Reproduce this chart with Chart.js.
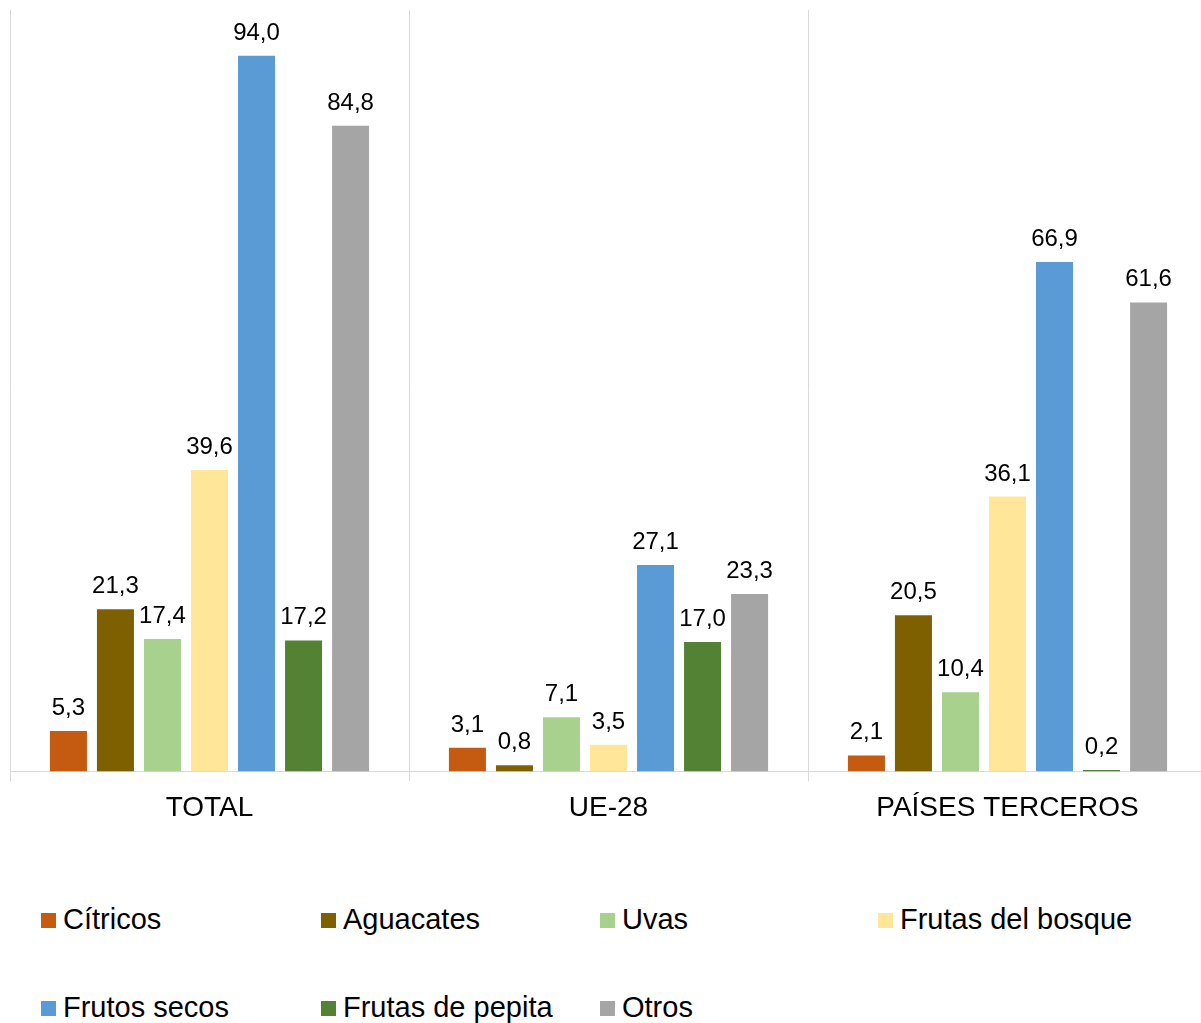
<!DOCTYPE html>
<html>
<head>
<meta charset="utf-8">
<script src="https://cdn.jsdelivr.net/npm/chart.js@4/dist/chart.umd.min.js"></script>
<style>
  html, body { margin: 0; padding: 0; background: #fff; overflow: hidden; }
  #wrap { position: relative; width: 1201px; height: 1023px; overflow: hidden; }
  #chart { position: absolute; left: 0; top: 0; }
  .leg { position: absolute; font-family: "Liberation Sans", Arial, sans-serif; font-size: 29px; color: #000; white-space: nowrap; line-height: 1; }
  .leg i { display: inline-block; width: 15px; height: 15px; margin-right: 7px; vertical-align: 1px; }
</style>
</head>
<body>
<div id="wrap">
  <canvas id="chart" width="1207" height="835"></canvas>
  <div id="legend"></div>
</div>
<script>
// categories and series (miles de toneladas)
const categories = ['TOTAL', 'UE-28', 'PAÍSES TERCEROS'];
const seriesNames = ['Cítricos', 'Aguacates', 'Uvas', 'Frutas del bosque', 'Frutos secos', 'Frutas de pepita', 'Otros'];
const citricos = [5.3, 3.1, 2.1];
const aguacates = [21.3, 0.8, 20.5];
const uvas = [17.4, 7.1, 10.4];
const frutasBosque = [39.6, 3.5, 36.1];
const frutosSecos = [94.0, 27.1, 66.9];
const frutasPepita = [17.2, 17.0, 0.2];
const otros = [84.8, 23.3, 61.6];

const seriesValues = [citricos, aguacates, uvas, frutasBosque, frutosSecos, frutasPepita, otros];
const colors = ['#C55A11', '#7F6000', '#A9D18E', '#FFE699', '#5B9BD5', '#548235', '#A5A5A5'];

const datasets = seriesNames.map((name, i) => ({
  label: name,
  data: seriesValues[i],
  backgroundColor: colors[i],
  categoryPercentage: 0.825,
  barPercentage: 0.787
}));

// value labels above the bars
const valueLabels = {
  id: 'valueLabels',
  afterDatasetsDraw(chart) {
    const ctx = chart.ctx;
    ctx.save();
    ctx.font = '24px "Liberation Sans", Arial, sans-serif';
    ctx.fillStyle = '#000';
    ctx.textAlign = 'center';
    ctx.textBaseline = 'alphabetic';
    chart.data.datasets.forEach((ds, i) => {
      const meta = chart.getDatasetMeta(i);
      meta.data.forEach((bar, j) => {
        const txt = ds.data[j].toFixed(1).replace('.', ',');
        ctx.fillText(txt, bar.x, bar.y - 16);
      });
    });
    ctx.restore();
  }
};

new Chart(document.getElementById('chart'), {
  type: 'bar',
  data: { labels: categories, datasets: datasets },
  options: {
    responsive: false,
    animation: false,
    devicePixelRatio: 1,
    layout: { padding: { left: 10, right: 0, top: 10, bottom: 0 } },
    plugins: { legend: { display: false }, tooltip: { enabled: false } },
    scales: {
      x: {
        grid: { offset: true, color: '#D9D9D9', lineWidth: 1, tickLength: 10 },
        border: { color: '#D9D9D9' },
        ticks: {
          color: '#000',
          padding: 10,
          font: { family: '"Liberation Sans", Arial, sans-serif', size: 28 }
        }
      },
      y: { display: false, min: 0, max: 100 }
    }
  },
  plugins: [valueLabels]
});

// legend, two rows in columns like the original
const legendPos = [[41, 911], [321, 911], [600, 911], [878, 911], [41, 999], [321, 999], [600, 999]];
const legendEl = document.getElementById('legend');
seriesNames.forEach((name, i) => {
  const d = document.createElement('div');
  d.className = 'leg';
  d.style.left = legendPos[i][0] + 'px';
  d.style.top = (legendPos[i][1] - 6) + 'px';
  d.innerHTML = '<i style="background:' + colors[i] + '"></i>' + name;
  legendEl.appendChild(d);
});
</script>
</body>
</html>
